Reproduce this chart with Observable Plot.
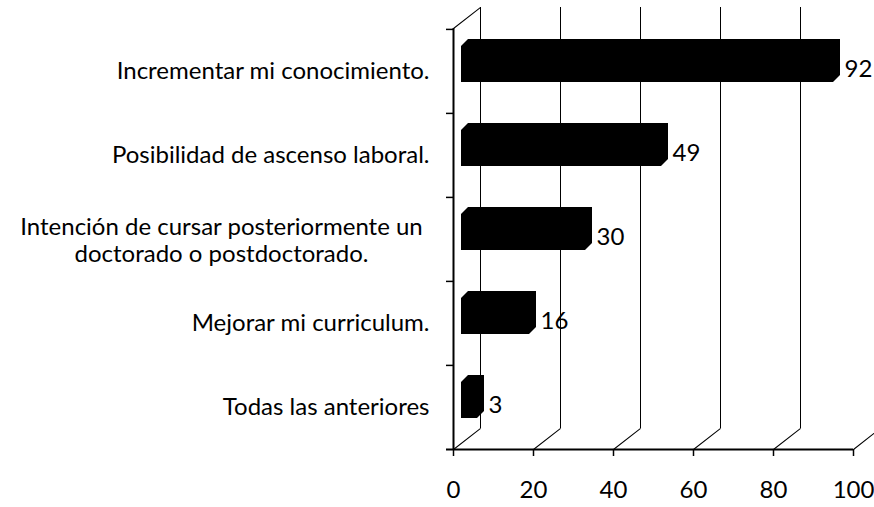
<!DOCTYPE html>
<html>
<head>
<meta charset="utf-8">
<script src="https://cdn.jsdelivr.net/npm/d3@7"></script>
<script src="https://cdn.jsdelivr.net/npm/@observablehq/plot@0.6"></script>
<style>
  html, body { margin: 0; padding: 0; background: #fff; overflow: hidden; }
  #chart svg { display: block; }
</style>
</head>
<body>
<div id="chart"></div>
<script>
const categories = [
  "Incrementar mi conocimiento.",
  "Posibilidad de ascenso laboral.",
  "Intención de cursar posteriormente un\ndoctorado o postdoctorado.",
  "Mejorar mi curriculum.",
  "Todas las anteriores"
];
const values = [92, 49, 30, 16, 3];
const xTicks = [0, 20, 40, 60, 80, 100];

const data = categories.map((c, i) => ({category: c, value: values[i]}));
const single = data.filter(d => !d.category.includes("\n"));
const wrapped = data.filter(d => d.category.includes("\n"));

const W = 874, H = 507, mL = 453, mR = 21, mT = 28, mB = 58;
const band = (H - mT - mB) / categories.length;
const FONT = 24;

const lineShape = {
  draw(context, l) { context.moveTo(0, 0); context.lineTo(0, -l); }
};

const chart = Plot.plot({
  width: W,
  height: H,
  marginLeft: mL,
  marginRight: mR,
  marginTop: mT,
  marginBottom: mB,
  style: {fontFamily: "Lato, 'Open Sans', sans-serif", fontSize: FONT + "px", color: "#000", background: "#fff", overflow: "visible"},
  x: {domain: [0, 100]},
  y: {domain: categories, padding: 0, axis: null},
  marks: [
    // back wall gridlines
    Plot.ruleX(xTicks, {x: d => d, dx: 27, dy: -21, stroke: "#000", strokeWidth: 1}),
    // floor diagonals
    Plot.vector(xTicks, {x: d => d, frameAnchor: "bottom", length: 34, rotate: 52, anchor: "start", shape: lineShape, stroke: "#000", strokeWidth: 1}),
    // left wall top diagonal
    Plot.vector([0], {x: d => d, frameAnchor: "top", length: 34, rotate: 52, anchor: "start", shape: lineShape, stroke: "#000", strokeWidth: 1}),
    // front left axis
    Plot.ruleX([0], {x: d => d, stroke: "#000", strokeWidth: 2}),
    Plot.ruleY(categories, {y: d => d, x1: 0, x2: 0, insetLeft: -7, dy: -band / 2, stroke: "#000", strokeWidth: 1.5}),
    // bottom axis line
    Plot.ruleY([categories[categories.length - 1]], {y: d => d, x1: 0, x2: 100, insetLeft: -7, dy: band / 2, stroke: "#000", strokeWidth: 2}),
    // bars (3D look: chamfered corners applied after rendering)
    Plot.barX(data, {x1: 0, x2: "value", y: "category", fill: "#000", dx: 8, insetRight: -11, insetTop: 10, insetBottom: 31, className: "bars3d"}),
    // value labels
    Plot.text(data, {x: "value", y: "category", text: d => String(d.value), textAnchor: "start", dx: 23, dy: -2, fill: "#000", fontSize: FONT}),
    // category labels
    Plot.text(single, {y: "category", frameAnchor: "left", text: "category", textAnchor: "end", dx: -24, fill: "#000", fontSize: FONT}),
    Plot.text(wrapped, {y: "category", frameAnchor: "left", text: "category", textAnchor: "middle", dx: -232, lineHeight: 27.3 / FONT, fill: "#000", fontSize: FONT}),
    // x axis
    Plot.axisX({ticks: xTicks, tickSize: 7, tickPadding: 24, fontSize: FONT, stroke: "#000", strokeWidth: 1.5, label: null})
  ]
});

// turn each bar rect into a chamfered (3D-style) shape
d3.select(chart).selectAll(".bars3d rect").each(function () {
  const r = d3.select(this);
  const x = +r.attr("x"), y = +r.attr("y"), w = +r.attr("width"), h = +r.attr("height");
  const c = Math.min(7, w / 2);
  const p = `M${x},${y + c}L${x + c},${y}L${x + w},${y}L${x + w},${y + h - c}L${x + w - c},${y + h}L${x},${y + h}Z`;
  const path = d3.create("svg:path").attr("d", p).attr("fill", r.attr("fill") || "#000");
  if (r.attr("transform")) path.attr("transform", r.attr("transform"));
  this.parentNode.insertBefore(path.node(), this);
  r.remove();
});

document.getElementById("chart").appendChild(chart);
</script>
</body>
</html>
